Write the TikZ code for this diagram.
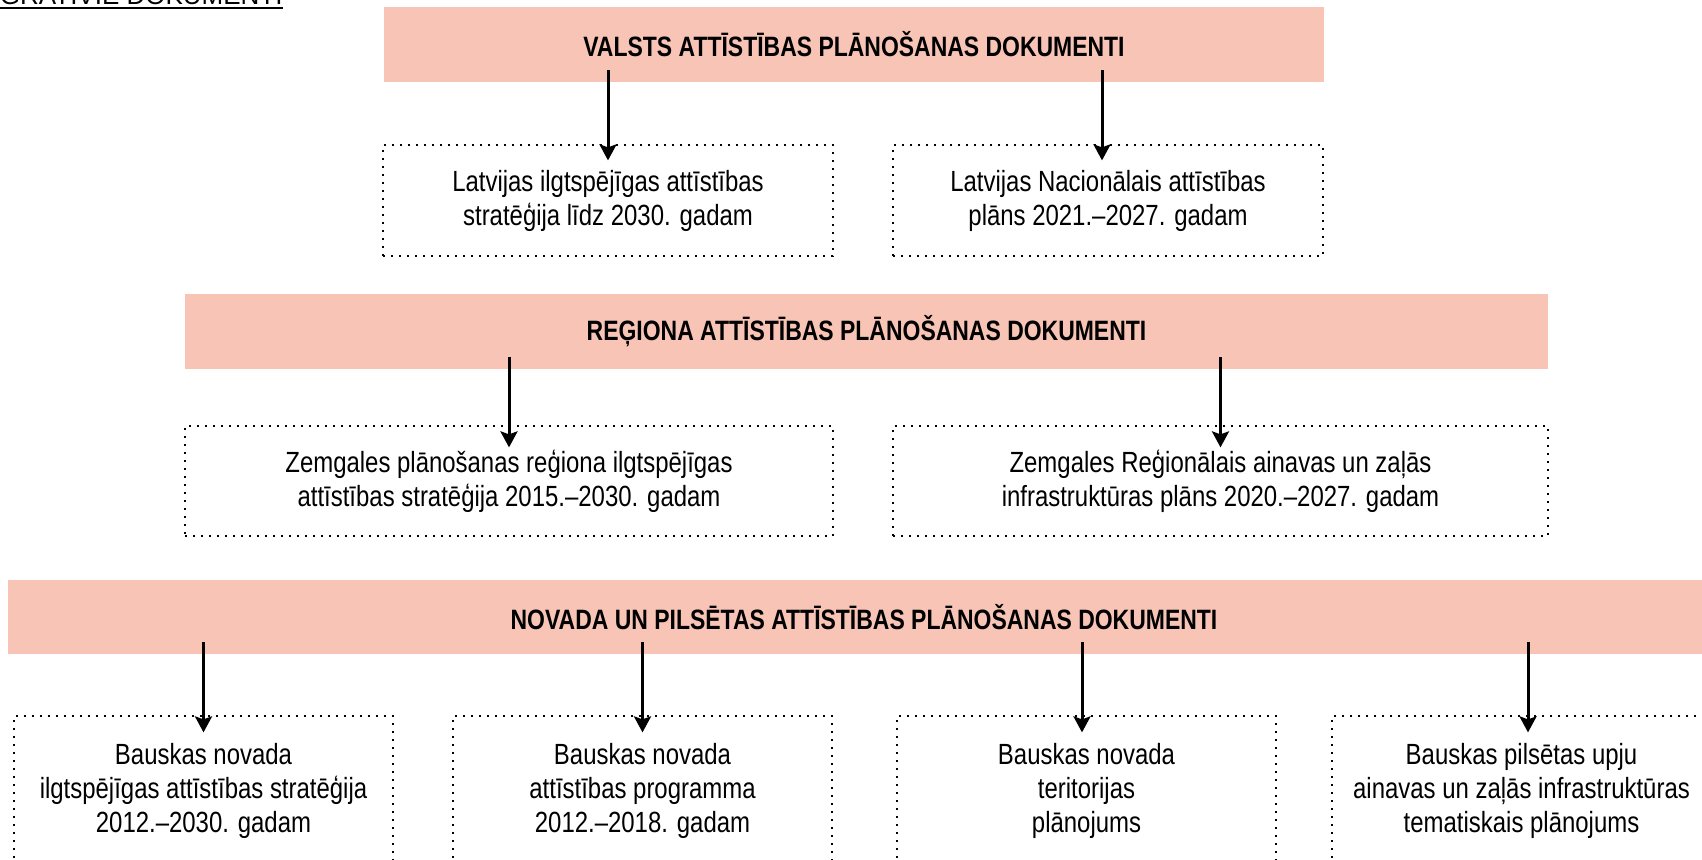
\documentclass[tikz,border=0pt]{standalone}
\usepackage{fontspec}
\setmainfont{Liberation Sans}
\newfontfamily\narrowfont[FakeStretch=0.82]{Liberation Sans}
\usetikzlibrary{arrows.meta,calc}
\definecolor{barpink}{RGB}{248,196,181}
\tikzset{
  bar/.style={fill=barpink, draw=none, inner sep=0pt,
    font=\narrowfont\bfseries\fontsize{14}{16}\selectfont},
  docbox/.style={draw=black, line width=1pt, dash pattern=on 1pt off 3pt,
    align=center, inner sep=0pt,
    font=\narrowfont\fontsize{14.6}{17}\selectfont},
  arr/.style={line width=1.5pt, -{Stealth[length=8pt,width=8.5pt,inset=1.5pt]}},
}
\begin{document}
\begin{tikzpicture}[x=0.5pt,y=-0.5pt]
\useasboundingbox (0,0) rectangle (1702,860);
\clip (0,0) rectangle (1702,860);

% top-left cut-off title
\node[anchor=base east, inner sep=0pt, font=\fontsize{13}{15}\selectfont] (tl) at (283,5) {INTEGRATĪVIE DOKUMENTI};
\draw[line width=1pt] ($(tl.base west)+(0,3)$) -- ($(tl.base east)+(0,3)$);

% state level
\node[bar, minimum width=470pt, minimum height=37.5pt] (hA) at (854,44.5) {VALSTS ATTĪSTĪBAS PLĀNOŠANAS DOKUMENTI};
\node[docbox, minimum width=225pt, minimum height=55.5pt] (a1) at (608,200.5) {Latvijas ilgtspējīgas attīstības\\stratēģija līdz 2030. gadam};
\node[docbox, minimum width=215pt, minimum height=55.5pt] (a2) at (1108,200.5) {Latvijas Nacionālais attīstības\\plāns 2021.–2027. gadam};

% region level
\node[bar, minimum width=681.5pt, minimum height=37.5pt] (hB) at (866.5,331.5) {REĢIONA ATTĪSTĪBAS PLĀNOŠANAS DOKUMENTI};
\node[docbox, minimum width=324pt, minimum height=55pt] (b1) at (509,481) {Zemgales plānošanas reģiona ilgtspējīgas\\attīstības stratēģija 2015.–2030. gadam};
\node[docbox, minimum width=327.5pt, minimum height=55pt] (b2) at (1220.5,481) {Zemgales Reģionālais ainavas un zaļās\\infrastruktūras plāns 2020.–2027. gadam};

% municipality level
\node[bar, minimum width=856pt, minimum height=37pt] (hC) at (864,617) {NOVADA UN PILSĒTAS ATTĪSTĪBAS PLĀNOŠANAS DOKUMENTI};
\node[docbox, minimum width=189.5pt, minimum height=75pt] (c1) at (203.5,791) {Bauskas novada\\ilgtspējīgas attīstības stratēģija\\2012.–2030. gadam};
\node[docbox, minimum width=189.5pt, minimum height=75pt] (c2) at (642.5,791) {Bauskas novada\\attīstības programma\\2012.–2018. gadam};
\node[docbox, minimum width=189.5pt, minimum height=75pt] (c3) at (1086.5,791) {Bauskas novada\\teritorijas\\plānojums};
\node[docbox, minimum width=189.5pt, minimum height=75pt] (c4) at (1521.5,791) {Bauskas pilsētas upju\\ainavas un zaļās infrastruktūras\\tematiskais plānojums};

% arrows
\draw[arr] ($(a1.north |- hA.south)+(0,-12)$) -- ++(0,90);
\draw[arr] ($(a2.north |- hA.south)+(-6,-12)$) -- ++(0,90);
\draw[arr] ($(b1.north |- hB.south)+(0,-12)$) -- ++(0,90);
\draw[arr] ($(b2.north |- hB.south)+(0,-12)$) -- ++(0,90);
\draw[arr] ($(c1.north |- hC.south)+(0,-12)$) -- ++(0,90);
\draw[arr] ($(c2.north |- hC.south)+(0,-12)$) -- ++(0,90);
\draw[arr] ($(c3.north |- hC.south)+(-4.5,-12)$) -- ++(0,90);
\draw[arr] ($(c4.north |- hC.south)+(6.5,-12)$) -- ++(0,90);
\end{tikzpicture}
\end{document}
